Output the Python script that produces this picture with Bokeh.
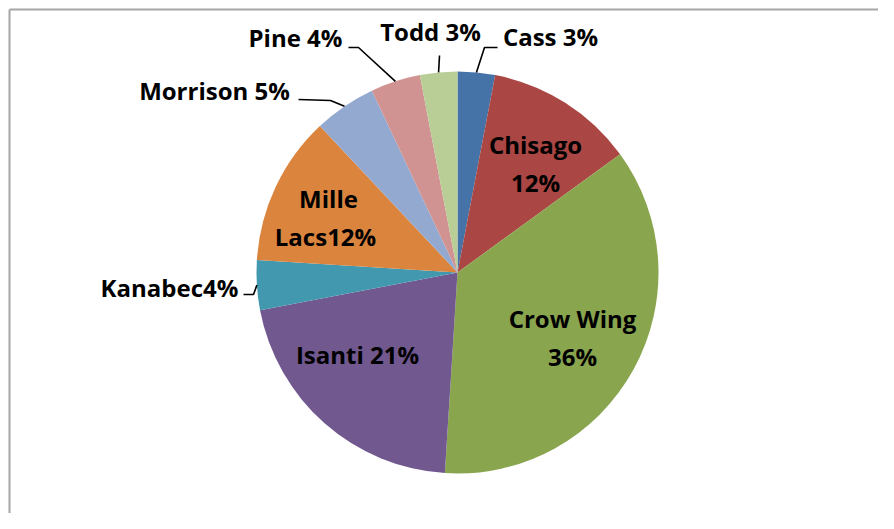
import math
from bokeh.plotting import figure
from bokeh.models import Range1d, ColumnDataSource
from bokeh.core.properties import value
from bokeh.embed import file_html
from bokeh.resources import INLINE

# ---- data ----
counties = ["Cass", "Chisago", "Crow Wing", "Isanti", "Kanabec",
            "Mille Lacs", "Morrison", "Pine", "Todd"]
shares = [3, 12, 36, 21, 4, 12, 5, 4, 3]
colors = ["#4572A7", "#AA4643", "#89A54E", "#71588F", "#4198AF",
          "#DB843D", "#93A9CF", "#D19392", "#B9CD96"]
label_lines = [["Cass 3%"], ["Chisago", "12%"], ["Crow Wing", "36%"],
               ["Isanti 21%"], ["Kanabec4%"], ["Mille", "Lacs12%"],
               ["Morrison 5%"], ["Pine 4%"], ["Todd 3%"]]

# ---- layout (picture pixel coordinates, y downward) ----
W, H = 878, 513
CX, CY, R = 457, 272, 201
line_pos = {
    "Cass": [(550, 36)],
    "Chisago": [(535, 144), (535, 182)],
    "Crow Wing": [(572, 318), (572, 356)],
    "Isanti": [(357, 354)],
    "Kanabec": [(169, 287)],
    "Mille Lacs": [(328, 198), (325, 236)],
    "Morrison": [(214, 90)],
    "Pine": [(295, 37)],
    "Todd": [(430, 31)],
}
leader_tail = {
    "Cass": [(484, 47), (497, 47)],
    "Todd": [(439, 55)],
    "Pine": [(358, 47), (348, 47)],
    "Morrison": [(330, 100), (298, 99)],
    "Kanabec": [(253, 294), (243, 294)],
}

def Y(yimg):
    return 529 - yimg

p = figure(width=W, height=H, output_backend="svg", toolbar_location=None,
           x_range=Range1d(0, W), y_range=Range1d(529 - H, 529),
           min_border=0)
p.axis.visible = False
p.grid.visible = False
p.outline_line_color = None
p.background_fill_color = "white"
p.border_fill_color = "white"

# frame (only left and top edges visible)
p.segment(x0=[9, 9], y0=[Y(9), Y(9)], x1=[9, 900], y1=[Y(540), Y(9)],
          line_color="#A6A6A6", line_width=2)

# wedges
total = sum(shares)
starts, ends, cum = [], [], 0.0
mids = []
for s in shares:
    a0 = math.pi / 2 - 2 * math.pi * cum / total
    cum += s
    a1 = math.pi / 2 - 2 * math.pi * cum / total
    starts.append(a0)
    ends.append(a1)
    mids.append((a0 + a1) / 2)
src = ColumnDataSource(dict(start=starts, end=ends, color=colors))
p.wedge(x=CX, y=Y(CY), radius=R, start_angle="start", end_angle="end",
        direction="clock", fill_color="color", line_color=None, source=src)

# leader lines
for name, tail in leader_tail.items():
    i = counties.index(name)
    sx = CX + R * math.cos(mids[i])
    sy = Y(CY) + R * math.sin(mids[i])
    xs = [sx] + [t[0] for t in tail]
    ys = [sy] + [Y(t[1]) for t in tail]
    p.line(xs, ys, line_color="black", line_width=1.6)

# labels
tx, ty, tt = [], [], []
for name, lines in zip(counties, label_lines):
    for txt, (lx, ly) in zip(lines, line_pos[name]):
        tx.append(lx)
        ty.append(Y(ly))
        tt.append(txt)
p.text(x=tx, y=ty, text=tt, text_font=value("Open Sans"), text_font_style="bold",
       text_font_size="24px", text_align="center", text_baseline="middle",
       text_color="black")

open("out.html", "w").write(file_html(p, INLINE))
